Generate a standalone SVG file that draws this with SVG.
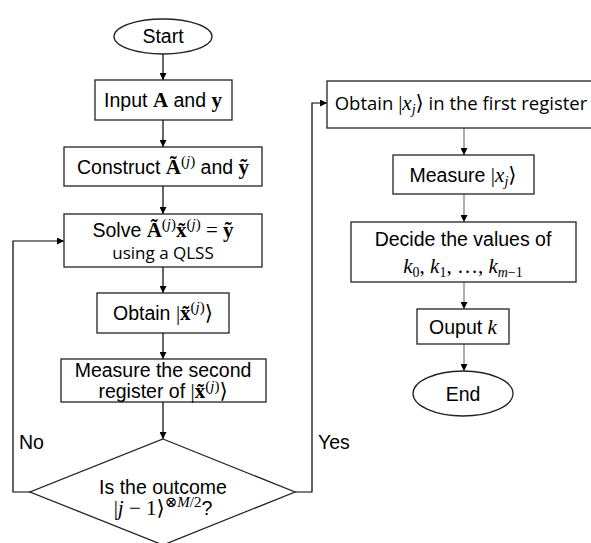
<svg xmlns="http://www.w3.org/2000/svg" width="591" height="543" viewBox="0 0 591 543">
<defs>
<marker id="ah" viewBox="0 0 10 10" refX="10" refY="5" markerWidth="7" markerHeight="7" orient="auto" markerUnits="userSpaceOnUse"><path d="M0,0 L10,5 L0,10 z" fill="#000"/></marker>
</defs>
<style>
.box{fill:#fff;stroke:#222;stroke-width:1.3}
.t{font-family:"Liberation Sans",Arial,sans-serif;font-size:19.5px;fill:#000;text-anchor:middle}
.c{font-family:"Open Sans","Liberation Sans",sans-serif;font-size:17px;fill:#000;text-anchor:middle}
.c2{font-family:"Open Sans","Liberation Sans",sans-serif;font-size:18.5px;fill:#000;text-anchor:middle}
.m{font-family:"Liberation Serif","DejaVu Serif",serif;font-weight:bold;font-size:21px}
.i{font-family:"Liberation Serif","DejaVu Serif",serif;font-style:italic;font-size:21px}
.r{font-family:"Liberation Serif","DejaVu Serif",serif;font-size:21px}
.s{font-size:15px}
.sb{font-size:14px}
.ln{fill:none;stroke:#000;stroke-width:1.2}
.lg{fill:none;stroke:#777;stroke-width:1.2}
</style>
<rect width="591" height="543" fill="#fff"/>
<g id="connectors">
<line class="ln" x1="163" y1="54" x2="163" y2="80" marker-end="url(#ah)"/>
<line class="ln" x1="163" y1="120" x2="163" y2="147" marker-end="url(#ah)"/>
<line class="ln" x1="163" y1="186" x2="163" y2="214" marker-end="url(#ah)"/>
<line class="ln" x1="163" y1="267" x2="163" y2="293" marker-end="url(#ah)"/>
<line class="ln" x1="163" y1="333" x2="163" y2="359" marker-end="url(#ah)"/>
<line class="ln" x1="163" y1="402" x2="163" y2="439" marker-end="url(#ah)"/>
<polyline class="ln" points="30,492 13,492 13,241 64,241" marker-end="url(#ah)"/>
<polyline class="ln" points="295,492 312,492 312,103 327,103" marker-end="url(#ah)"/>
<line class="lg" x1="464" y1="128" x2="464" y2="155" marker-end="url(#ah)"/>
<line class="lg" x1="464" y1="194" x2="464" y2="222" marker-end="url(#ah)"/>
<line class="lg" x1="464" y1="282" x2="464" y2="309" marker-end="url(#ah)"/>
<line class="lg" x1="464" y1="344" x2="464" y2="371" marker-end="url(#ah)"/>
<text class="t" x="19" y="449" style="text-anchor:start">No</text>
<text class="t" x="318" y="449" style="text-anchor:start">Yes</text>
</g>
<g id="start">
<ellipse class="box" cx="163" cy="36.5" rx="49" ry="17.5"/>
<text class="t" x="163" y="43">Start</text>
</g>
<g id="input">
<rect class="box" x="95" y="80" width="137" height="40"/>
<text class="t" x="163" y="107">Input <tspan class="m">A</tspan> and <tspan class="m">y</tspan></text>
</g>
<g id="construct">
<rect class="box" x="64" y="147" width="198" height="39"/>
<text class="t" x="163" y="174">Construct <tspan class="m">Ã</tspan><tspan class="r s" dy="-8">(</tspan><tspan class="i s">j</tspan><tspan class="r s">)</tspan><tspan dy="8"> and </tspan><tspan class="m">ỹ</tspan></text>
</g>
<g id="solve">
<rect class="box" x="64" y="214" width="198" height="53"/>
<text class="t" x="163" y="237">Solve <tspan class="m">Ã</tspan><tspan class="r s" dy="-8">(</tspan><tspan class="i s">j</tspan><tspan class="r s">)</tspan><tspan class="m" dy="8">x̃</tspan><tspan class="r s" dy="-8">(</tspan><tspan class="i s">j</tspan><tspan class="r s">)</tspan><tspan class="r" dy="8"> = </tspan><tspan class="m">ỹ</tspan></text>
<text class="c" x="163" y="259">using a QLSS</text>
</g>
<g id="obtain">
<rect class="box" x="97" y="293" width="132" height="40"/>
<text class="t" x="163" y="320">Obtain <tspan class="r">|</tspan><tspan class="m">x̃</tspan><tspan class="r s" dy="-8">(</tspan><tspan class="i s">j</tspan><tspan class="r s">)</tspan><tspan class="r" dy="8">⟩</tspan></text>
</g>
<g id="measure2">
<rect class="box" x="61" y="359" width="205" height="43"/>
<text class="t" x="163" y="377">Measure the second</text>
<text class="t" x="163" y="398">register of <tspan class="r">|</tspan><tspan class="m">x̃</tspan><tspan class="r s" dy="-7">(</tspan><tspan class="i s">j</tspan><tspan class="r s">)</tspan><tspan class="r" dy="7">⟩</tspan></text>
</g>
<g id="decision">
<polygon class="box" points="163,439 295,492 163,545 30,492"/>
<text class="t" x="163" y="494">Is the outcome</text>
<text class="t" x="163" y="515"><tspan class="r">|</tspan><tspan class="i">j</tspan><tspan class="r"> − 1⟩</tspan><tspan class="r s" dy="-8">⊗</tspan><tspan class="i s">M</tspan><tspan class="r s">/2</tspan><tspan dy="8">?</tspan></text>
</g>
<g id="obtainx">
<rect class="box" x="327" y="81" width="270" height="47"/>
<text class="c2" x="461" y="110"><tspan>Obtain </tspan><tspan class="r">|</tspan><tspan class="i">x</tspan><tspan class="i sb" dy="4">j</tspan><tspan class="r" dy="-4">⟩</tspan><tspan> in the first register</tspan></text>
</g>
<g id="measurex">
<rect class="box" x="393" y="155" width="141" height="39"/>
<text class="t" x="463" y="182">Measure <tspan class="r">|</tspan><tspan class="i">x</tspan><tspan class="i sb" dy="4">j</tspan><tspan class="r" dy="-4">⟩</tspan></text>
</g>
<g id="decide">
<rect class="box" x="351" y="222" width="225" height="60"/>
<text class="t" x="463" y="246">Decide the values of</text>
<text class="t" x="463" y="273"><tspan class="i">k</tspan><tspan class="r sb" dy="4">0</tspan><tspan class="r" dy="-4">, </tspan><tspan class="i">k</tspan><tspan class="r sb" dy="4">1</tspan><tspan class="r" dy="-4">, …, </tspan><tspan class="i">k</tspan><tspan class="i sb" dy="4">m</tspan><tspan class="r sb">−1</tspan></text>
</g>
<g id="output">
<rect class="box" x="417" y="309" width="92" height="35"/>
<text class="t" x="463" y="334">Ouput <tspan class="i">k</tspan></text>
</g>
<g id="end">
<ellipse class="box" cx="463" cy="393.5" rx="50" ry="22.5"/>
<text class="t" x="463" y="401">End</text>
</g>
</svg>
